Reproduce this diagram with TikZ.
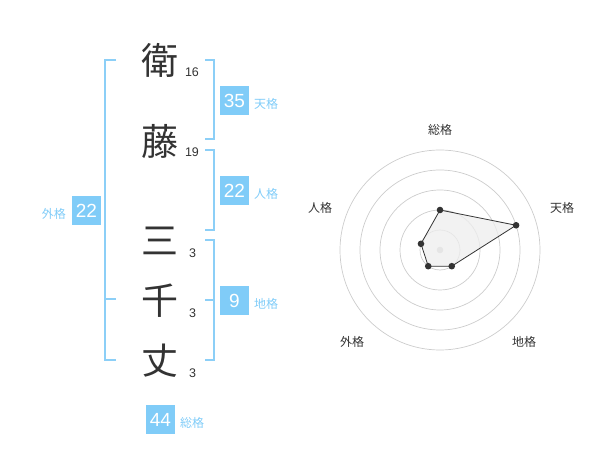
\documentclass[tikz,border=0pt]{standalone}
\usepackage{fontspec}
\setmainfont{Liberation Sans}
\newfontfamily\cjk{Noto Sans CJK JP}
\definecolor{kblue}{HTML}{80CCF8}
\definecolor{kline}{HTML}{8CCFF7}
\definecolor{ktext}{HTML}{333333}
\definecolor{kring}{HTML}{CCCCCC}
\definecolor{kfill}{HTML}{EEEEEE}
\tikzset{
  kanji/.style={font=\cjk\fontsize{37}{37}\selectfont, text=ktext, inner sep=0pt},
  strokes/.style={font=\fontsize{12.5}{12.5}\selectfont, text=ktext, inner sep=0pt},
  valbox/.style={fill=kblue, text=white, minimum width=29pt, minimum height=29pt, inner sep=0pt, font=\fontsize{19}{19}\selectfont},
  kaku/.style={font=\cjk\fontsize{12}{12}\selectfont, text=kblue, inner sep=0pt},
  brk/.style={draw=kline, line width=1.6pt},
  ring/.style={draw=kring, line width=0.7pt},
  axlabel/.style={font=\cjk\fontsize{12}{12}\selectfont, text=ktext, inner sep=0pt},
  dotp/.style={fill=ktext},
}
\begin{document}
\begin{tikzpicture}[x=1pt,y=-1pt]
\useasboundingbox (0,0) rectangle (600,470);
% brackets
\draw[brk] (116,60) -- (105,60) -- (105,360) -- (116,360);
\draw[brk] (105,299) -- (116,299);
\draw[brk] (205,60) -- (214,60) -- (214,139) -- (205,139);
\draw[brk] (205,150) -- (214,150) -- (214,230) -- (205,230);
\draw[brk] (205,240) -- (214,240) -- (214,360) -- (205,360);
\draw[brk] (205,300) -- (214,300);
% characters
\node[kanji] (c1) at (160,60) {衛};
\node[kanji] (c2) at (160,141) {藤};
\node[kanji] (c3) at (160,241) {三};
\node[kanji] (c4) at (160,301) {千};
\node[kanji] (c5) at (160,361) {丈};
\node[strokes] (s1) at (192,72) {16};
\node[strokes] (s2) at (192,152) {19};
\node[strokes] (s3) at (192.5,253) {3};
\node[strokes] (s4) at (192.5,313) {3};
\node[strokes] (s5) at (192.5,373) {3};
% values
\node[valbox] (ten) at (234.5,100.5) {35};
\node[kaku, anchor=west] (tenl) at (254,103.5) {天格};
\node[valbox] (jin) at (234.5,190.5) {22};
\node[kaku, anchor=west] (jinl) at (254,193.5) {人格};
\node[valbox] (chi) at (234.5,300.5) {9};
\node[kaku, anchor=west] (chil) at (254,303.5) {地格};
\node[valbox] (gai) at (86.5,210.5) {22};
\node[kaku, anchor=east] (gail) at (66,213.5) {外格};
\node[valbox] (sou) at (160.5,419.5) {44};
\node[kaku, anchor=west] (soul) at (180,422.5) {総格};
% radar
\begin{scope}[shift={(440,250)}]
\foreach \r in {20,40,60,80,100} \draw[ring] (0,0) circle[radius=\r];
\fill[kring] (0,0) circle[radius=3.3];
\coordinate (p1) at (-90:40);
\coordinate (p2) at (-18:80);
\coordinate (p3) at (54:20);
\coordinate (p4) at (126:20);
\coordinate (p5) at (-162:20);
\filldraw[fill=kfill, fill opacity=0.75, draw=ktext, line width=0.8pt, line join=round] (p1) -- (p2) -- (p3) -- (p4) -- (p5) -- cycle;
\foreach \p in {p1,p2,p3,p4,p5} \fill[dotp] (\p) circle[radius=3.3];
\node[axlabel] (l1) at (0,-120) {総格};
\node[axlabel] (l2) at (122,-42) {天格};
\node[axlabel] (l3) at (-120,-42) {人格};
\node[axlabel] (l4) at (-88,92) {外格};
\node[axlabel] (l5) at (84,92) {地格};
\end{scope}
\end{tikzpicture}
\end{document}
